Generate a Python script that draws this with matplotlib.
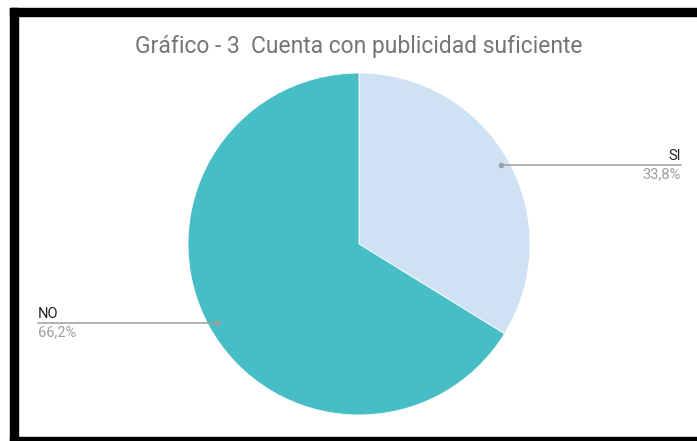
import numpy as np
import matplotlib
matplotlib.use("Agg")
import matplotlib.pyplot as plt
from matplotlib.patches import Rectangle

plt.rcParams['font.family'] = ['Roboto', 'DejaVu Sans']

labels = ["SI", "NO"]
values = [33.8, 66.2]
pct_labels = ["33,8%", "66,2%"]
colors = ["#cfe2f3", "#47bdc6"]
title = "Gráfico - 3  Cuenta con publicidad suficiente"

W, H = 697, 441
fig = plt.figure(figsize=(W / 100, H / 100), dpi=100)

# frame around the chart
bg = fig.add_axes([0, 0, 1, 1])
bg.set_xlim(0, W)
bg.set_ylim(H, 0)
bg.axis("off")
bg.add_patch(Rectangle((10, 8), W - 10, 8, color="black"))
bg.add_patch(Rectangle((10, 8), 8, H - 8, color="black"))
bg.add_patch(Rectangle((10, 437), W - 10, 4, color="black"))

fig.text(359 / W, 1 - 47 / H, title, ha="center", va="center",
         fontsize=16.5, color="#757575")

# pie axes: center (359, 244), radius 171 px
cx, cy, r = 359, 244, 171
ax = fig.add_axes([(cx - r) / W, 1 - (cy + r) / H, 2 * r / W, 2 * r / H])
wedges, _ = ax.pie(values, colors=colors, startangle=90, counterclock=False,
                   wedgeprops=dict(linewidth=0.6, edgecolor="white"))
ax.set_xlim(-1, 1)
ax.set_ylim(-1, 1)
ax.set_aspect("equal")
ax.axis("off")

# overlay for leader lines and labels
top = fig.add_axes([0, 0, 1, 1])
top.set_xlim(0, W)
top.set_ylim(H, 0)
top.axis("off")
top.patch.set_alpha(0)

label_x = [681, 38]
for w, lab, pct, lx in zip(wedges, labels, pct_labels, label_x):
    ang = np.deg2rad((w.theta1 + w.theta2) / 2)
    px = cx + 0.95 * r * np.cos(ang)
    py = cy - 0.95 * r * np.sin(ang)
    top.plot([px, lx], [py, py], color="#9e9e9e", lw=1.1)
    top.plot([px], [py], "o", color="#9e9e9e", ms=3)
    ha = "right" if lx > cx else "left"
    top.text(lx, py - 2, lab, ha=ha, va="bottom", fontsize=10.5, color="#222222")
    top.text(lx, py + 2, pct, ha=ha, va="top", fontsize=10.5, color="#9e9e9e")

fig.savefig("out.png", dpi=100)
